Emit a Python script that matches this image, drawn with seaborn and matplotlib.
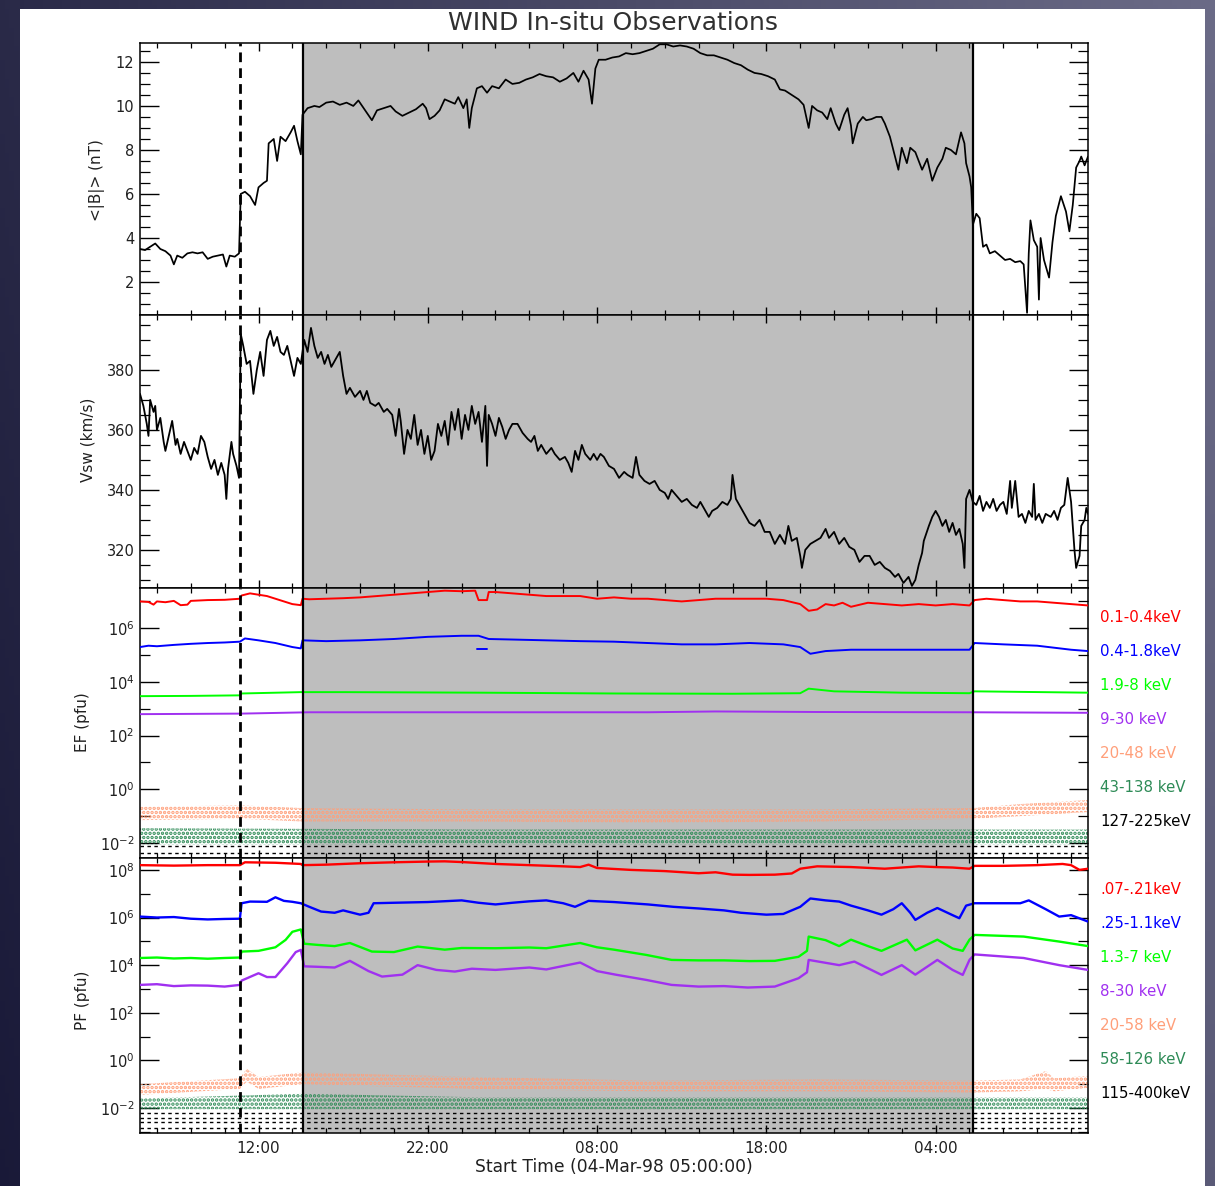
import numpy as np
import matplotlib
matplotlib.use("Agg")
import matplotlib.pyplot as plt
import seaborn as sns
from matplotlib.ticker import FixedLocator, FixedFormatter, NullFormatter
from matplotlib.patches import Rectangle

sns.set_theme(style="white")
plt.rcParams['font.family'] = ['DejaVu Sans']
plt.rcParams['hatch.linewidth'] = 1.7

# ---------------------------------------------------------------- data
# time axis: hours after 04-Mar-98 05:00:00
t_start, t_end = 0.0, 56.0
shock_time = 5.93          # dashed marker
icme_start, icme_end = 9.60, 49.22   # shaded interval
major_hours = [7, 17, 27, 37, 47]
major_labels = ["12:00", "22:00", "08:00", "18:00", "04:00"]

# magnetic field magnitude <|B|> (nT)
b_trace = [
    (0.0, 3.5), (0.3, 3.45), (0.6, 3.6), (0.9, 3.75), (1.2, 3.5), (1.5, 3.4), (1.8, 3.2), (2.0, 2.8),
    (2.2, 3.2), (2.5, 3.1), (2.8, 3.3), (3.1, 3.35), (3.4, 3.3), (3.7, 3.35), (4.0, 3.05), (4.3, 3.15),
    (4.6, 3.2), (4.9, 3.25), (5.1, 2.7), (5.3, 3.2), (5.6, 3.15), (5.85, 3.3), (5.95, 6.0), (6.2, 6.1),
    (6.5, 5.9), (6.8, 5.5), (7.0, 6.3), (7.3, 6.5), (7.5, 6.6), (7.6, 8.3), (7.9, 8.5), (8.1, 7.5),
    (8.3, 8.6), (8.6, 8.4), (8.9, 8.8), (9.1, 9.1), (9.3, 8.4), (9.5, 7.8), (9.6, 9.6), (9.9, 9.9),
    (10.3, 10.0), (10.6, 9.95), (11.0, 10.15), (11.4, 10.2), (11.8, 10.05), (12.2, 10.15), (12.6, 10.0),
    (12.9, 10.25), (13.3, 9.8), (13.7, 9.35), (14.0, 9.8), (14.4, 9.9), (14.8, 10.0), (15.1, 9.75),
    (15.5, 9.55), (15.9, 9.7), (16.3, 9.85), (16.7, 10.1), (16.9, 9.9), (17.1, 9.4), (17.4, 9.55),
    (17.7, 9.8), (18.0, 10.3), (18.3, 10.2), (18.6, 10.1), (18.8, 10.4), (19.1, 9.9), (19.3, 10.3),
    (19.45, 9.0), (19.6, 9.9), (19.9, 10.8), (20.2, 10.9), (20.5, 10.6), (20.8, 10.9), (21.2, 10.8),
    (21.6, 11.2), (22.0, 11.0), (22.4, 11.05), (22.8, 11.2), (23.2, 11.3), (23.6, 11.45), (24.0, 11.35),
    (24.4, 11.3), (24.8, 11.1), (25.2, 11.25), (25.6, 11.5), (25.9, 11.1), (26.2, 11.6), (26.5, 11.2),
    (26.7, 10.1), (26.9, 11.7), (27.1, 12.1), (27.5, 12.1), (27.9, 12.2), (28.3, 12.25), (28.7, 12.4),
    (29.1, 12.35), (29.5, 12.4), (29.9, 12.5), (30.3, 12.6), (30.7, 12.8), (31.1, 12.8), (31.5, 12.7),
    (31.9, 12.75), (32.3, 12.7), (32.7, 12.6), (33.1, 12.4), (33.5, 12.3), (33.9, 12.3), (34.3, 12.2),
    (34.7, 12.1), (35.1, 11.95), (35.5, 11.85), (35.9, 11.65), (36.3, 11.5), (36.7, 11.45), (37.1, 11.35),
    (37.5, 11.2), (37.8, 10.75), (38.1, 10.7), (38.5, 10.5), (38.9, 10.3), (39.2, 10.05), (39.5, 9.0),
    (39.7, 10.0), (40.0, 9.8), (40.3, 9.7), (40.6, 9.4), (40.8, 9.9), (41.1, 9.2), (41.3, 8.9),
    (41.6, 9.6), (41.8, 9.9), (42.0, 9.1), (42.1, 8.3), (42.4, 9.2), (42.7, 9.5), (42.9, 9.35),
    (43.2, 9.4), (43.5, 9.5), (43.8, 9.5), (44.0, 9.2), (44.3, 8.6), (44.6, 7.7), (44.8, 7.1),
    (45.0, 8.1), (45.3, 7.4), (45.5, 8.1), (45.8, 7.9), (46.0, 7.5), (46.2, 7.1), (46.5, 7.6),
    (46.8, 6.6), (47.1, 7.2), (47.4, 7.6), (47.6, 8.1), (47.9, 8.0), (48.2, 7.8), (48.5, 8.8),
    (48.7, 8.3), (48.8, 7.4), (49.0, 6.8), (49.1, 6.3), (49.2, 4.6), (49.4, 5.1), (49.6, 4.9),
    (49.8, 3.6), (50.0, 3.7), (50.2, 3.3), (50.5, 3.4), (50.8, 3.2), (51.1, 3.0), (51.4, 3.05),
    (51.7, 2.9), (52.0, 2.95), (52.2, 2.8), (52.4, 0.6), (52.5, 3.3), (52.6, 4.8), (52.8, 3.9),
    (53.0, 3.6), (53.1, 1.2), (53.2, 4.0), (53.4, 3.0), (53.7, 2.2), (53.9, 3.8), (54.1, 5.0),
    (54.4, 5.9), (54.7, 5.2), (54.9, 4.3), (55.1, 5.5), (55.3, 7.2), (55.5, 7.5), (55.6, 7.7),
    (55.8, 7.3), (56.0, 7.7),
]

# solar wind speed Vsw (km/s)
v_trace = [
    (0.0, 372), (0.2, 368), (0.4, 362), (0.5, 358), (0.6, 370), (0.8, 366), (0.9, 368), (1.0, 360),
    (1.2, 364), (1.4, 356), (1.5, 353), (1.7, 358), (1.9, 363), (2.1, 355), (2.2, 357), (2.4, 352),
    (2.6, 356), (2.8, 353), (3.0, 350), (3.2, 354), (3.4, 352), (3.6, 358), (3.8, 356), (4.0, 351),
    (4.2, 347), (4.4, 350), (4.6, 345), (4.8, 349), (5.0, 345), (5.1, 337), (5.2, 347), (5.4, 356),
    (5.5, 352), (5.7, 348), (5.85, 344), (5.95, 392), (6.1, 388), (6.3, 382), (6.5, 383), (6.7, 372),
    (6.9, 380), (7.1, 386), (7.3, 378), (7.5, 390), (7.7, 393), (7.9, 388), (8.1, 391), (8.3, 386),
    (8.5, 385), (8.7, 388), (8.9, 383), (9.1, 378), (9.3, 384), (9.5, 382), (9.7, 390), (9.9, 386),
    (10.1, 394), (10.3, 388), (10.5, 384), (10.7, 386), (10.9, 382), (11.1, 385), (11.3, 381),
    (11.5, 383), (11.8, 386), (12.0, 378), (12.2, 372), (12.4, 374), (12.7, 371), (13.0, 373),
    (13.2, 370), (13.4, 373), (13.6, 369), (13.9, 368), (14.1, 369), (14.4, 366), (14.6, 367),
    (14.9, 365), (15.1, 358), (15.3, 367), (15.4, 363), (15.6, 352), (15.8, 360), (16.0, 357),
    (16.2, 365), (16.4, 355), (16.6, 360), (16.8, 352), (17.0, 358), (17.2, 350), (17.4, 353),
    (17.6, 362), (17.8, 358), (18.0, 363), (18.2, 355), (18.4, 366), (18.6, 360), (18.8, 367),
    (19.0, 357), (19.2, 365), (19.4, 360), (19.6, 368), (19.8, 362), (20.0, 366), (20.2, 356),
    (20.4, 368), (20.5, 348), (20.6, 365), (20.8, 362), (21.0, 358), (21.2, 364), (21.4, 361),
    (21.6, 357), (21.8, 360), (22.0, 362), (22.3, 362), (22.6, 359), (22.9, 357), (23.1, 356),
    (23.3, 358), (23.5, 353), (23.7, 355), (24.0, 352), (24.3, 354), (24.5, 352), (24.8, 350),
    (25.1, 351), (25.3, 349), (25.5, 346), (25.7, 353), (25.9, 350), (26.1, 355), (26.3, 352),
    (26.6, 350), (26.8, 352), (27.0, 350), (27.2, 352), (27.4, 351), (27.7, 348), (28.0, 347),
    (28.3, 344), (28.6, 346), (28.8, 345), (29.1, 344), (29.3, 351), (29.5, 345), (29.8, 343),
    (30.1, 342), (30.4, 343), (30.7, 340), (31.0, 339), (31.2, 337), (31.4, 340), (31.7, 338),
    (32.0, 336), (32.3, 337), (32.6, 335), (32.9, 334), (33.1, 336), (33.4, 333), (33.6, 331),
    (33.8, 333), (34.1, 334), (34.4, 336), (34.7, 335), (34.9, 337), (35.0, 345), (35.2, 337),
    (35.5, 334), (35.8, 331), (36.0, 329), (36.3, 328), (36.6, 330), (36.9, 326), (37.2, 326),
    (37.5, 322), (37.8, 325), (38.1, 322), (38.3, 328), (38.5, 323), (38.8, 324), (39.0, 318),
    (39.1, 314), (39.3, 320), (39.6, 322), (39.9, 323), (40.2, 324), (40.5, 327), (40.7, 324),
    (41.0, 326), (41.3, 322), (41.6, 324), (41.9, 321), (42.2, 320), (42.5, 316), (42.8, 318),
    (43.1, 318), (43.4, 315), (43.7, 316), (44.0, 314), (44.3, 313), (44.6, 311), (44.8, 312),
    (45.1, 309), (45.4, 311), (45.6, 308), (45.8, 310), (46.0, 315), (46.2, 319), (46.3, 323),
    (46.6, 328), (46.8, 331), (47.0, 333), (47.2, 331), (47.4, 328), (47.6, 330), (47.8, 326),
    (48.0, 329), (48.2, 325), (48.4, 327), (48.6, 322), (48.7, 314), (48.8, 337), (49.0, 340),
    (49.2, 336), (49.4, 335), (49.6, 338), (49.8, 333), (50.0, 336), (50.2, 334), (50.4, 337),
    (50.6, 333), (50.8, 335), (51.0, 336), (51.2, 332), (51.4, 343), (51.5, 334), (51.7, 343),
    (51.9, 331), (52.1, 332), (52.3, 329), (52.5, 333), (52.7, 331), (52.8, 342), (52.9, 330),
    (53.1, 332), (53.3, 329), (53.5, 332), (53.8, 331), (54.0, 333), (54.2, 330), (54.4, 334),
    (54.6, 335), (54.8, 344), (54.9, 340), (55.0, 336), (55.2, 320), (55.3, 314), (55.5, 318),
    (55.6, 328), (55.8, 330), (55.9, 334), (56.0, 332),
]

# electron flux, log10(pfu)
ef_labels = ["0.1-0.4keV", "0.4-1.8keV", "1.9-8 keV", "9-30 keV", "20-48 keV", "43-138 keV", "127-225keV"]
ef_red = [(0, 7.0), (0.5, 6.98), (0.8, 6.88), (1.0, 7.0), (1.5, 6.97), (2.0, 7.02), (2.4, 6.86),
          (2.8, 6.88), (3.0, 7.02), (4.0, 7.05), (5.0, 7.06), (5.9, 7.1), (6.0, 7.22), (6.5, 7.3),
          (7.0, 7.25), (7.5, 7.2), (8.0, 7.1), (8.5, 7.0), (9.0, 6.9), (9.5, 6.86), (9.6, 7.1),
          (10, 7.08), (11, 7.1), (12, 7.12), (13, 7.15), (14, 7.2), (15, 7.25), (16, 7.3), (17, 7.35),
          (18, 7.4), (19, 7.38), (19.8, 7.4), (20.0, 7.05), (20.5, 7.05), (20.6, 7.35), (21, 7.35),
          (22, 7.3), (23, 7.25), (24, 7.2), (25, 7.2), (26, 7.2), (27, 7.1), (28, 7.15), (29, 7.1),
          (30, 7.1), (31, 7.05), (32, 7.0), (33, 7.05), (34, 7.1), (35, 7.1), (36, 7.1), (37, 7.1),
          (38, 7.05), (39, 6.9), (39.5, 6.65), (40, 6.7), (40.5, 6.9), (41, 6.85), (41.5, 6.95),
          (42, 6.8), (43, 6.95), (44, 6.9), (45, 6.85), (46, 6.9), (47, 6.85), (48, 6.9), (49, 6.85),
          (49.3, 7.05), (50, 7.1), (51, 7.05), (52, 7.0), (53, 7.0), (54, 6.95), (55, 6.9), (56, 6.85)]
ef_blue = [(0, 5.3), (0.5, 5.35), (1, 5.33), (2, 5.38), (3, 5.42), (4, 5.45), (5, 5.47), (5.9, 5.5),
           (6.2, 5.62), (7, 5.55), (8, 5.45), (9, 5.3), (9.5, 5.25), (9.6, 5.55), (11, 5.52),
           (13, 5.55), (15, 5.6), (17, 5.68), (19, 5.72), (20, 5.72), (20.6, 5.6),
           (22, 5.58), (24, 5.55), (26, 5.52), (28, 5.5), (30, 5.45), (32, 5.4), (34, 5.4), (36, 5.45),
           (38, 5.4), (39, 5.3), (39.6, 5.05), (40.5, 5.15), (42, 5.2), (44, 5.2), (46, 5.2), (48, 5.2),
           (49, 5.2), (49.3, 5.45), (51, 5.4), (53, 5.35), (55, 5.2), (56, 5.15)]
ef_blue_dropout = [(19.9, 5.22), (20.5, 5.22)]
ef_green = [(0, 3.47), (3, 3.48), (5.9, 3.5), (6.0, 3.57), (9.5, 3.62), (12, 3.62), (20, 3.6),
            (28, 3.57), (35, 3.56), (39, 3.58), (39.5, 3.75), (41, 3.65), (45, 3.6), (49, 3.58),
            (49.3, 3.65), (56, 3.6)]
ef_purple = [(0, 2.8), (6, 2.82), (10, 2.87), (20, 2.87), (30, 2.87), (34, 2.9), (40, 2.88),
             (49, 2.87), (56, 2.85)]
# scatter bands of the upper channels: (hour, lower, upper)
ef_orange_band = [(0, -1.15, -0.65), (6, -1.1, -0.6), (9.6, -1.2, -0.7), (20, -1.2, -0.75),
                  (30, -1.25, -0.75), (40, -1.2, -0.75), (49.2, -1.1, -0.7), (52, -1.0, -0.55),
                  (56, -0.85, -0.4)]
ef_seagreen_band = [(0, -2.05, -1.45), (20, -2.05, -1.5), (40, -2.05, -1.5), (56, -2.05, -1.5)]
ef_black_levels = [-2.12, -2.37]

# proton flux, log10(pfu)
pf_labels = [".07-.21keV", ".25-1.1keV", "1.3-7 keV", "8-30 keV", "20-58 keV", "58-126 keV", "115-400keV"]
pf_red = [(0, 8.2), (2, 8.18), (4, 8.2), (5.9, 8.2), (6.2, 8.32), (8, 8.3), (9.5, 8.25), (9.6, 8.2),
          (11, 8.22), (13, 8.28), (15, 8.32), (17, 8.35), (18, 8.36), (19, 8.33), (21, 8.25),
          (23, 8.2), (25, 8.15), (26, 8.12), (26.5, 8.22), (27, 8.08), (29, 8.0), (31, 7.95),
          (33, 7.86), (34, 7.9), (35, 7.8), (36, 7.79), (37.5, 7.8), (38.5, 7.85), (39, 8.05),
          (40, 8.15), (42, 8.12), (44, 8.05), (45, 8.1), (46, 8.15), (47, 8.12), (48, 8.1),
          (49, 8.05), (49.3, 8.17), (51, 8.17), (53, 8.2), (54.5, 8.25), (55, 8.2), (55.5, 8.0),
          (56, 8.05)]
pf_blue = [(0, 6.04), (1, 6.0), (2, 6.02), (3, 5.95), (4, 5.92), (5, 5.94), (5.9, 5.95), (6.0, 6.6),
           (6.5, 6.67), (7.5, 6.66), (8.0, 6.85), (8.5, 6.7), (9, 6.66), (9.5, 6.6), (10, 6.45),
           (10.7, 6.25), (11.5, 6.2), (12, 6.3), (13, 6.12), (13.5, 6.2), (13.8, 6.6), (15, 6.62),
           (17, 6.65), (19, 6.72), (20, 6.62), (21, 6.55), (22, 6.62), (23, 6.68), (24, 6.72),
           (25, 6.6), (25.7, 6.45), (26.5, 6.7), (28, 6.65), (30, 6.55), (31.5, 6.45), (33, 6.38),
           (34.5, 6.3), (35.5, 6.2), (37, 6.12), (38, 6.15), (39, 6.45), (39.6, 6.8), (40.5, 6.72),
           (41.3, 6.67), (42, 6.5), (43, 6.3), (43.8, 6.12), (44.5, 6.35), (45, 6.6), (45.5, 6.2),
           (45.8, 5.9), (46.5, 6.2), (47.1, 6.4), (48, 6.1), (48.4, 5.97), (48.8, 6.5), (49.3, 6.6),
           (52, 6.6), (52.5, 6.72), (53.5, 6.35), (54.3, 6.04), (55, 6.1), (56, 5.83)]
pf_green = [(0, 4.3), (1, 4.32), (2, 4.28), (3, 4.3), (4, 4.27), (5, 4.3), (5.9, 4.32), (6, 4.57),
            (7, 4.6), (8, 4.75), (8.6, 5.06), (9.0, 5.4), (9.5, 5.5), (9.7, 4.9), (10.5, 4.85),
            (11.5, 4.8), (12.4, 4.93), (13.7, 4.57), (15, 4.55), (16.4, 4.78), (18, 4.65), (19, 4.72),
            (21, 4.71), (23, 4.74), (24, 4.71), (26, 4.93), (27, 4.75), (28, 4.65), (29.9, 4.43),
            (31.4, 4.22), (33, 4.2), (34.5, 4.2), (36, 4.17), (37.5, 4.18), (38.9, 4.35), (39.4, 4.6),
            (39.5, 5.2), (40.5, 5.05), (41.3, 4.8), (42, 5.07), (43, 4.8), (43.8, 4.6), (45.3, 5.07),
            (45.8, 4.62), (47.1, 5.07), (48, 4.7), (48.6, 4.6), (49, 5.07), (49.3, 5.27), (52.2, 5.2),
            (54.3, 4.99), (56, 4.8)]
pf_purple = [(0, 3.17), (1, 3.2), (2, 3.12), (3, 3.15), (4, 3.14), (5, 3.1), (5.9, 3.17), (6, 3.35),
             (7, 3.66), (7.5, 3.5), (8, 3.5), (8.7, 4.08), (9.2, 4.55), (9.5, 4.64), (9.7, 3.95),
             (10.5, 3.93), (11.5, 3.9), (12.4, 4.18), (13.5, 3.75), (14.3, 3.52), (15.5, 3.6),
             (16.4, 4.0), (17.5, 3.8), (18.6, 3.73), (19.6, 3.85), (21, 3.8), (23, 3.9), (24, 3.82),
             (26, 4.11), (27, 3.75), (28.1, 3.6), (29.9, 3.38), (31.4, 3.17), (33, 3.1), (34.5, 3.12),
             (35.9, 3.06), (37.5, 3.1), (38.9, 3.45), (39.4, 3.7), (39.5, 4.22), (41.3, 4.0),
             (42.2, 4.15), (43.8, 3.59), (45, 4.0), (45.8, 3.6), (47.1, 4.22), (48, 3.8), (48.6, 3.59),
             (49, 4.22), (49.3, 4.45), (52.2, 4.3), (54.3, 4.0), (56, 3.8)]
pf_orange_band = [(0, -1.45, -1.0), (5.9, -1.2, -0.75), (6.3, -0.9, -0.35), (7, -1.2, -0.7),
                  (9.6, -1.0, -0.5), (12, -1.05, -0.55), (20, -1.2, -0.7), (30, -1.3, -0.85),
                  (40, -1.3, -0.8), (49.2, -1.35, -0.85), (52, -1.3, -0.8), (53.5, -1.2, -0.45),
                  (54, -1.3, -0.75), (56, -1.15, -0.65)]
pf_seagreen_band = [(0, -2.05, -1.6), (9.6, -2.05, -1.4), (20, -2.05, -1.55), (40, -2.05, -1.55),
                    (56, -2.05, -1.55)]
pf_black_levels = [-2.2, -2.4, -2.6, -2.85]

channel_colors = ["#ff0000", "#0000ff", "#00ff00", "#a030f0", "#ff9f7a", "#2e8b57", "#000000"]

# ---------------------------------------------------------------- figure
W, H = 1215, 1186
fig = plt.figure(figsize=(W / 100, H / 100), dpi=100)

# slide backdrop and white plotting sheet
bg = fig.add_axes([0, 0, 1, 1], zorder=-10)
gx = np.linspace(0, 1, 256)
gy = np.linspace(0, 1, 256)
GX, GY = np.meshgrid(gx, gy)
c0 = np.array([0.10, 0.10, 0.22])
c1 = np.array([0.42, 0.42, 0.53])
mix = np.clip(0.8 * GX + 0.2 * GY, 0, 1)[..., None]
bg.imshow(c0 + (c1 - c0) * mix, aspect="auto", extent=[0, 1, 0, 1], origin="lower")
bg.add_patch(Rectangle((20 / W, 0), (1205 - 20) / W, 1 - 9 / H, transform=bg.transAxes,
                       facecolor="white", edgecolor="none"))
bg.set_xlim(0, 1)
bg.set_ylim(0, 1)
bg.axis("off")


def frac_box(top, bottom):
    return [140 / W, 1 - bottom / H, (1088 - 140) / W, (bottom - top) / H]


ax_b = fig.add_axes(frac_box(43, 315))
ax_v = fig.add_axes(frac_box(315, 588))
ax_ef = fig.add_axes(frac_box(588, 858))
ax_pf = fig.add_axes(frac_box(858, 1133))
panels = [ax_b, ax_v, ax_ef, ax_pf]

for ax in panels:
    ax.set_facecolor("white")
    ax.axvspan(icme_start, icme_end, color="#bebebe", zorder=0, lw=0)
    ax.axvline(shock_time, color="black", lw=2.0, ls=(0, (3.5, 2.2)), zorder=5)
    ax.axvline(icme_start, color="black", lw=1.6, zorder=5)
    ax.axvline(icme_end, color="black", lw=1.6, zorder=5)
    ax.set_xlim(t_start, t_end)
    ax.xaxis.set_major_locator(FixedLocator(major_hours))
    ax.xaxis.set_minor_locator(FixedLocator(np.arange(1, 56, 2)))
    ax.tick_params(axis="x", which="major", direction="in", length=6, width=1.0,
                   top=True, bottom=True, color="black")
    ax.tick_params(axis="x", which="minor", direction="in", length=3.5, width=0.9,
                   top=True, bottom=True, color="black")
    ax.tick_params(axis="y", which="major", direction="in", length=13.5, width=1.0,
                   left=True, right=True, labelsize=10.5, pad=4, color="black",
                   labelcolor="#202020")
    ax.tick_params(axis="y", which="minor", direction="in", length=7, width=0.9,
                   left=True, right=True, color="black")
    for sp in ax.spines.values():
        sp.set_color("black")
        sp.set_linewidth(1.1)

for ax in panels[:-1]:
    ax.set_xticklabels([])
ax_pf.set_xticklabels(major_labels, fontsize=11, color="#202020")
ax_pf.tick_params(axis="x", which="major", pad=6)

# panel 1: |B|
b_time, b_val = np.array(b_trace).T
sns.lineplot(x=b_time, y=b_val, ax=ax_b, color="black", lw=1.25, estimator=None, sort=False, zorder=3)
ax_b.set_ylim(0.5, 12.86)
ax_b.yaxis.set_major_locator(FixedLocator([2, 4, 6, 8, 10, 12]))
ax_b.yaxis.set_minor_locator(FixedLocator(np.arange(1.0, 12.9, 0.5)))
ax_b.set_xlabel("")
ax_b.set_ylabel("")

# panel 2: Vsw
v_time, v_val = np.array(v_trace).T
sns.lineplot(x=v_time, y=v_val, ax=ax_v, color="black", lw=1.3, estimator=None, sort=False, zorder=3)
ax_v.set_ylim(307.3, 398.3)
ax_v.yaxis.set_major_locator(FixedLocator([320, 340, 360, 380]))
ax_v.yaxis.set_minor_locator(FixedLocator(np.arange(310, 398, 5)))
ax_v.set_xlabel("")
ax_v.set_ylabel("")


def log_panel(ax, lines, orange_band, seagreen_band, black_levels, lo, hi, labelled, lw):
    ax.set_yscale("log")
    for band, col in ((orange_band, channel_colors[4]), (seagreen_band, channel_colors[5])):
        tt, bl, bh = np.array(band).T
        ax.fill_between(tt, 10 ** bl, 10 ** bh, facecolor="none", edgecolor=col,
                        hatch="....", linewidth=0, zorder=2)
    for lev in black_levels:
        sns.lineplot(x=[t_start, t_end], y=[10 ** lev, 10 ** lev], ax=ax, color="black",
                     lw=1.0, ls=(0, (2.5, 2.5)), estimator=None, zorder=2)
    for series, col in zip(lines, channel_colors[:4]):
        tt, vv = np.array(series).T
        sns.lineplot(x=tt, y=10 ** vv, ax=ax, color=col, lw=lw, estimator=None, sort=False, zorder=3)
    ax.set_ylim(10 ** lo, 10 ** hi)
    ax.yaxis.set_major_locator(FixedLocator([10.0 ** k for k in labelled]))
    ax.yaxis.set_major_formatter(FixedFormatter([r"$10^{%d}$" % k for k in labelled]))
    odd = [k + 1 for k in labelled] + [labelled[0] - 1]
    ax.yaxis.set_minor_locator(FixedLocator([10.0 ** k for k in odd]))
    ax.yaxis.set_minor_formatter(NullFormatter())
    ax.set_xlabel("")
    ax.set_ylabel("")


log_panel(ax_ef, [ef_red, ef_blue, ef_green, ef_purple], ef_orange_band, ef_seagreen_band,
          ef_black_levels, -2.56, 7.5, [-2, 0, 2, 4, 6], 1.4)
dt, dv = np.array(ef_blue_dropout).T
sns.lineplot(x=dt, y=10 ** dv, ax=ax_ef, color=channel_colors[1], lw=1.4, estimator=None, zorder=3)
ax_ef.set_xlabel("")
ax_ef.set_ylabel("")
log_panel(ax_pf, [pf_red, pf_blue, pf_green, pf_purple], pf_orange_band, pf_seagreen_band,
          pf_black_levels, -3.05, 8.5, [-2, 0, 2, 4, 6, 8], 1.7)

# axis titles
lab_kw = dict(rotation=90, ha="center", va="center", fontsize=11, color="#202020")
fig.text(97 / W, 1 - 180 / H, "<|B|> (nT)", **lab_kw)
fig.text(88 / W, 1 - 440 / H, "Vsw (km/s)", **lab_kw)
fig.text(83 / W, 1 - 722 / H, "EF (pfu)", **lab_kw)
fig.text(83 / W, 1 - 1000 / H, "PF (pfu)", **lab_kw)
fig.text(614 / W, 1 - 1167 / H, "Start Time (04-Mar-98 05:00:00)", ha="center", va="center",
         fontsize=12.3, color="#202020")
fig.text(613 / W, 1 - 23 / H, "WIND In-situ Observations", ha="center", va="center",
         fontsize=18, color="#303030")

# channel keys
for i, (lab, col) in enumerate(zip(ef_labels, channel_colors)):
    fig.text(1100 / W, 1 - (618 + 34 * i) / H, lab, color=col, ha="left", va="center", fontsize=10.8)
for i, (lab, col) in enumerate(zip(pf_labels, channel_colors)):
    fig.text(1100 / W, 1 - (890 + 34 * i) / H, lab, color=col, ha="left", va="center", fontsize=10.8)

fig.savefig("out.png", dpi=100)
